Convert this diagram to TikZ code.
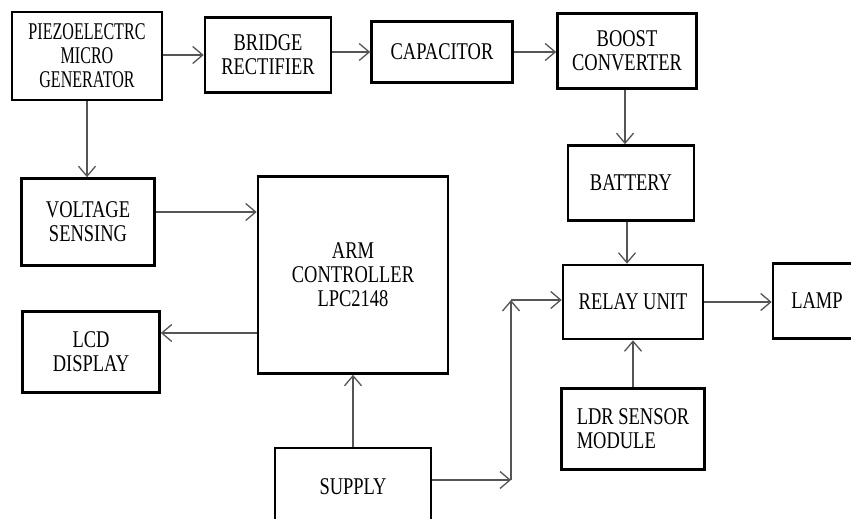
\documentclass[tikz,border=0pt]{standalone}
\usepackage{fontspec}
\setmainfont{Liberation Serif}[FakeStretch=0.77]
\newfontfamily\narrowserif{Liberation Serif}[FakeStretch=0.67]
\usepackage{tikz}
\usetikzlibrary{arrows.meta, positioning, calc}
\definecolor{linegray}{RGB}{85, 85, 85}
\tikzset{
  font=\fontsize{24}{24}\selectfont,
  blockbox/.style={
    rectangle, draw=black, line width=2.6pt, fill=white,
    inner sep=2pt, align=center
  },
  flowline/.style={
    draw=linegray, line width=1.3pt,
    -{Straight Barb[length=10pt, width=17pt, line width=1.3pt]}
  }
}

\begin{document}
\begin{tikzpicture}[x=1pt, y=-1pt]
  \useasboundingbox (0,0) rectangle (851,519);
  \clip (0,0) rectangle (851,519);

  % Top row: harvesting chain
  \node[blockbox, minimum width=150pt, minimum height=88pt, font=\narrowserif\fontsize{24}{24}\selectfont] (piezo) at (87,56) {PIEZOELECTRC\\MICRO\\GENERATOR};
  \node[blockbox, minimum width=126pt, minimum height=75pt] (bridge) at (268,55) {BRIDGE\\RECTIFIER};
  \node[blockbox, minimum width=141pt, minimum height=61pt] (cap) at (442,52) {CAPACITOR};
  \node[blockbox, minimum width=139pt, minimum height=75pt] (boost) at (627,51) {BOOST\\CONVERTER};

  % Right column: storage and switching
  \node[blockbox, minimum width=126pt, minimum height=75pt] (battery) at (631,183) {BATTERY};
  \node[blockbox, minimum width=140pt, minimum height=74pt] (relay) at (633,302) {RELAY UNIT};
  \node[blockbox, minimum width=88pt, minimum height=75pt] (lamp) at (817,301) {LAMP};
  \node[blockbox, minimum width=143pt, minimum height=81pt, align=left] (ldr) at (633,429) {LDR SENSOR\\MODULE};

  % Left side: sensing, controller, display
  \node[blockbox, minimum width=133pt, minimum height=87pt] (voltage) at (88,222) {VOLTAGE\\SENSING};
  \node[blockbox, minimum width=190pt, minimum height=197pt] (arm) at (353,275) {ARM\\CONTROLLER\\LPC2148};
  \node[blockbox, minimum width=137pt, minimum height=81pt] (lcd) at (91,352) {LCD\\DISPLAY};
  \node[blockbox, minimum width=156pt, minimum height=78pt] (supply) at (353,487) {SUPPLY};

  % Supply route to relay
  \coordinate (corner) at (511,480);
  \coordinate (turn) at (511,300);

  % Flows
  \draw[flowline] (piezo.east |- bridge) -- (bridge.west);
  \draw[flowline] (bridge.east |- cap) -- (cap.west);
  \draw[flowline] (cap.east) -- (cap.east -| boost.west);
  \draw[flowline] ([xshift=-2pt]boost.south) -- ([xshift=-2pt]boost.south |- battery.north);
  \draw[flowline] ([xshift=-4pt]battery.south) -- ([xshift=-4pt]battery.south |- relay.north);
  \draw[flowline] (relay.east) -- (relay.east -| lamp.west);
  \draw[flowline] (ldr.north) -- (relay.south);
  \draw[flowline] (piezo.south) -- (piezo.south |- voltage.north);
  \draw[flowline] ([yshift=10pt]voltage.east) -- ([yshift=10pt]voltage.east -| arm.west);
  \draw[flowline] ([yshift=19pt]lcd.east -| arm.west) -- ([yshift=19pt]lcd.east);
  \draw[flowline] (supply.north) -- (arm.south);
  \draw[flowline] (supply.east |- corner) -- (corner);
  \draw[flowline] (corner) -- (turn);
  \draw[flowline] (turn) -- (turn -| relay.west);
\end{tikzpicture}
\end{document}
